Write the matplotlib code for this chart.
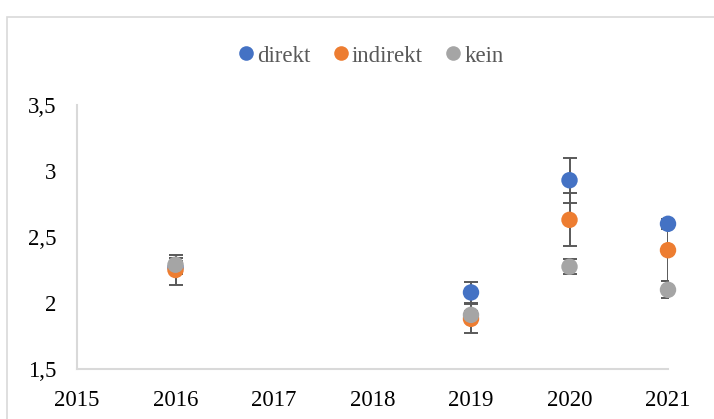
import matplotlib
matplotlib.use("Agg")
import matplotlib.pyplot as plt
from matplotlib.patches import Rectangle
from matplotlib.lines import Line2D

plt.rcParams['font.family'] = ['Liberation Serif', 'DejaVu Serif']

years = [2016, 2019, 2020, 2021]
series_names = ["direkt", "indirekt", "kein"]
direkt = [2.27, 2.08, 2.93, 2.60]
direkt_err = [0.05, 0.08, 0.17, 0.04]
indirekt = [2.25, 1.88, 2.63, 2.40]
indirekt_err = [0.11, 0.11, 0.20, 0.23]
kein = [2.29, 1.91, 2.275, 2.10]
kein_err = [0.05, 0.03, 0.055, 0.065]
x_ticks = [2015, 2016, 2017, 2018, 2019, 2020, 2021]
y_ticks = [1.5, 2.0, 2.5, 3.0, 3.5]
y_labels = ["1,5", "2", "2,5", "3", "3,5"]
colors = ["#4472C4", "#ED7D31", "#A5A5A5"]

fig = plt.figure(figsize=(7.14, 4.19), dpi=100)
fig.patch.set_facecolor("white")
# outer chart frame
fig.patches.append(Rectangle((7/714, -0.1), 1.2, (419-17)/419 + 0.1,
                             transform=fig.transFigure, fill=False,
                             edgecolor="#D9D9D9", linewidth=1.2))

ax = fig.add_axes([77/714, (419-369)/419, (668-77)/714, (369-105)/419])
ax.set_xlim(2015, 2021)
ax.set_ylim(1.5, 3.5)

data = [(direkt, direkt_err), (indirekt, indirekt_err), (kein, kein_err)]
for vals, err in data:
    ax.errorbar(years, vals, yerr=err, fmt='none', ecolor="#595959",
                elinewidth=1.4, capsize=4.8, capthick=1.4, zorder=2)
for (vals, err), c, name in zip(data, colors, series_names):
    ax.scatter(years, vals, s=140, color=c, zorder=3, label=name,
               edgecolors='none', clip_on=False)

ax.set_xticks(x_ticks)
ax.set_xticklabels([str(x) for x in x_ticks])
ax.set_yticks(y_ticks)
ax.set_yticklabels(y_labels)
ax.tick_params(length=0, labelsize=16.5, colors="#000000")
ax.tick_params(axis='y', pad=15)
ax.tick_params(axis='x', pad=15)
for s in ["top", "right"]:
    ax.spines[s].set_visible(False)
for s in ["left", "bottom"]:
    ax.spines[s].set_color("#D9D9D9")
    ax.spines[s].set_linewidth(1.5)

handles = [Line2D([0], [0], marker='o', linestyle='none', markersize=10.5,
                  markerfacecolor=c, markeredgecolor='none') for c in colors]
fig.legend(handles, series_names, loc='center', bbox_to_anchor=(369/714, 1-56/419),
           ncol=3, frameon=False, fontsize=16.5, handletextpad=0.0,
           columnspacing=0.8, labelcolor="#595959", handlelength=1.0)

fig.savefig("out.png", dpi=100, facecolor="white")
